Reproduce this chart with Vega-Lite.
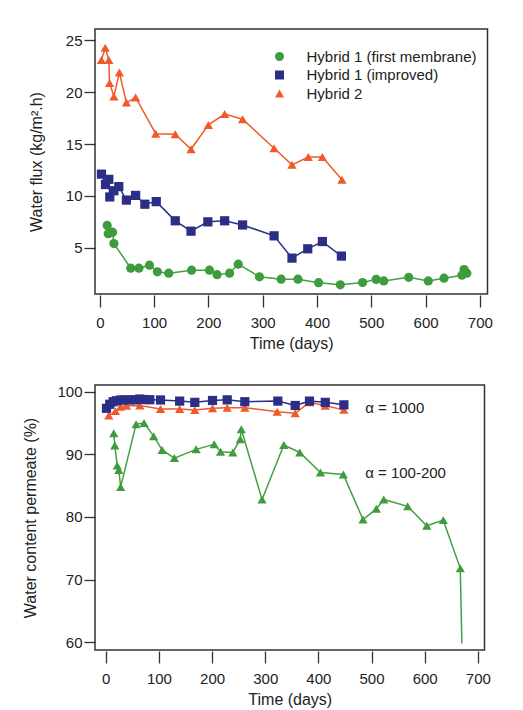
{
  "$schema": "https://vega.github.io/schema/vega-lite/v6.json",
  "background": "white",
  "padding": {"left": 22, "top": 28, "right": 0, "bottom": 0},
  "spacing": 31,
  "columns": 1,
  "config": {
    "font": "Liberation Sans",
    "view": {"stroke": "#333333", "strokeWidth": 1.5},
    "axis": {
      "labelFont": "Liberation Sans", "labelFontSize": 15, "labelColor": "#222222",
      "titleFont": "Liberation Sans", "titleFontSize": 16, "titleFontWeight": "normal", "titleColor": "#222222",
      "domain": false, "grid": false, "tickColor": "#333333", "tickWidth": 1.3,
      "labelFlush": false, "labelOverlap": false
    },
    "legend": {"labelFont": "Liberation Sans", "labelFontSize": 15, "labelColor": "#222222", "labelLimit": 400}
  },
  "datasets": {
    "flux": [
      {"series": "Hybrid 2", "t": 3, "v": 23.1},
      {"series": "Hybrid 2", "t": 10, "v": 24.3},
      {"series": "Hybrid 2", "t": 16.6, "v": 23.1},
      {"series": "Hybrid 2", "t": 18, "v": 20.9},
      {"series": "Hybrid 2", "t": 26, "v": 19.6},
      {"series": "Hybrid 2", "t": 36, "v": 21.9},
      {"series": "Hybrid 2", "t": 49, "v": 19.0},
      {"series": "Hybrid 2", "t": 66, "v": 19.5},
      {"series": "Hybrid 2", "t": 103, "v": 16.0},
      {"series": "Hybrid 2", "t": 139, "v": 15.95},
      {"series": "Hybrid 2", "t": 168, "v": 14.5},
      {"series": "Hybrid 2", "t": 200, "v": 16.85},
      {"series": "Hybrid 2", "t": 230, "v": 17.9},
      {"series": "Hybrid 2", "t": 263, "v": 17.4},
      {"series": "Hybrid 2", "t": 321, "v": 14.6},
      {"series": "Hybrid 2", "t": 354, "v": 13.0},
      {"series": "Hybrid 2", "t": 384, "v": 13.75},
      {"series": "Hybrid 2", "t": 410, "v": 13.75},
      {"series": "Hybrid 2", "t": 446, "v": 11.55},
      {"series": "Hybrid 1 (first membrane)", "t": 13.6, "v": 7.15},
      {"series": "Hybrid 1 (first membrane)", "t": 15.5, "v": 6.35},
      {"series": "Hybrid 1 (first membrane)", "t": 23.5, "v": 6.5},
      {"series": "Hybrid 1 (first membrane)", "t": 26, "v": 5.4},
      {"series": "Hybrid 1 (first membrane)", "t": 57, "v": 3.03},
      {"series": "Hybrid 1 (first membrane)", "t": 72, "v": 3.03},
      {"series": "Hybrid 1 (first membrane)", "t": 91.5, "v": 3.32},
      {"series": "Hybrid 1 (first membrane)", "t": 106, "v": 2.68},
      {"series": "Hybrid 1 (first membrane)", "t": 127, "v": 2.55},
      {"series": "Hybrid 1 (first membrane)", "t": 169, "v": 2.84},
      {"series": "Hybrid 1 (first membrane)", "t": 202, "v": 2.84},
      {"series": "Hybrid 1 (first membrane)", "t": 216, "v": 2.4},
      {"series": "Hybrid 1 (first membrane)", "t": 239, "v": 2.55},
      {"series": "Hybrid 1 (first membrane)", "t": 255, "v": 3.42},
      {"series": "Hybrid 1 (first membrane)", "t": 294, "v": 2.2},
      {"series": "Hybrid 1 (first membrane)", "t": 334, "v": 1.97},
      {"series": "Hybrid 1 (first membrane)", "t": 365, "v": 1.97},
      {"series": "Hybrid 1 (first membrane)", "t": 403, "v": 1.63},
      {"series": "Hybrid 1 (first membrane)", "t": 443, "v": 1.43},
      {"series": "Hybrid 1 (first membrane)", "t": 484, "v": 1.65},
      {"series": "Hybrid 1 (first membrane)", "t": 509, "v": 1.95},
      {"series": "Hybrid 1 (first membrane)", "t": 523, "v": 1.8},
      {"series": "Hybrid 1 (first membrane)", "t": 569, "v": 2.15},
      {"series": "Hybrid 1 (first membrane)", "t": 605, "v": 1.8},
      {"series": "Hybrid 1 (first membrane)", "t": 634, "v": 2.07},
      {"series": "Hybrid 1 (first membrane)", "t": 667, "v": 2.35},
      {"series": "Hybrid 1 (first membrane)", "t": 671, "v": 2.9},
      {"series": "Hybrid 1 (first membrane)", "t": 676, "v": 2.55},
      {"series": "Hybrid 1 (improved)", "t": 3, "v": 12.1},
      {"series": "Hybrid 1 (improved)", "t": 10.5, "v": 11.1},
      {"series": "Hybrid 1 (improved)", "t": 16.6, "v": 11.6},
      {"series": "Hybrid 1 (improved)", "t": 18.4, "v": 9.9},
      {"series": "Hybrid 1 (improved)", "t": 26, "v": 10.5},
      {"series": "Hybrid 1 (improved)", "t": 35, "v": 10.9},
      {"series": "Hybrid 1 (improved)", "t": 49, "v": 9.6},
      {"series": "Hybrid 1 (improved)", "t": 66, "v": 10.05},
      {"series": "Hybrid 1 (improved)", "t": 83, "v": 9.2},
      {"series": "Hybrid 1 (improved)", "t": 104, "v": 9.45},
      {"series": "Hybrid 1 (improved)", "t": 139, "v": 7.6},
      {"series": "Hybrid 1 (improved)", "t": 168, "v": 6.6},
      {"series": "Hybrid 1 (improved)", "t": 199, "v": 7.5},
      {"series": "Hybrid 1 (improved)", "t": 230, "v": 7.6},
      {"series": "Hybrid 1 (improved)", "t": 263, "v": 7.2},
      {"series": "Hybrid 1 (improved)", "t": 321, "v": 6.15},
      {"series": "Hybrid 1 (improved)", "t": 354, "v": 4.0},
      {"series": "Hybrid 1 (improved)", "t": 383, "v": 4.9},
      {"series": "Hybrid 1 (improved)", "t": 410, "v": 5.6},
      {"series": "Hybrid 1 (improved)", "t": 445, "v": 4.2}
    ],
    "water": [
      {"series": "Hybrid 2", "t": 5.6, "v": 96.2},
      {"series": "Hybrid 2", "t": 18.3, "v": 96.9},
      {"series": "Hybrid 2", "t": 27.7, "v": 97.6},
      {"series": "Hybrid 2", "t": 39, "v": 97.77},
      {"series": "Hybrid 2", "t": 64, "v": 97.8},
      {"series": "Hybrid 2", "t": 103, "v": 97.24},
      {"series": "Hybrid 2", "t": 139, "v": 97.24},
      {"series": "Hybrid 2", "t": 167.5, "v": 97.08},
      {"series": "Hybrid 2", "t": 200.8, "v": 97.35},
      {"series": "Hybrid 2", "t": 228.5, "v": 97.45},
      {"series": "Hybrid 2", "t": 261.6, "v": 97.45},
      {"series": "Hybrid 2", "t": 322.5, "v": 96.8},
      {"series": "Hybrid 2", "t": 356.4, "v": 96.55},
      {"series": "Hybrid 2", "t": 383.3, "v": 98.3},
      {"series": "Hybrid 2", "t": 413, "v": 97.77},
      {"series": "Hybrid 2", "t": 448, "v": 97.1},
      {"series": "Hybrid 1 (first membrane)", "t": 15, "v": 93.35},
      {"series": "Hybrid 1 (first membrane)", "t": 17, "v": 91.4},
      {"series": "Hybrid 1 (first membrane)", "t": 21.5, "v": 88.2},
      {"series": "Hybrid 1 (first membrane)", "t": 24.5, "v": 87.5},
      {"series": "Hybrid 1 (first membrane)", "t": 28, "v": 84.8},
      {"series": "Hybrid 1 (first membrane)", "t": 57, "v": 94.8},
      {"series": "Hybrid 1 (first membrane)", "t": 72, "v": 95.0},
      {"series": "Hybrid 1 (first membrane)", "t": 90, "v": 92.9},
      {"series": "Hybrid 1 (first membrane)", "t": 106, "v": 90.7},
      {"series": "Hybrid 1 (first membrane)", "t": 129, "v": 89.4},
      {"series": "Hybrid 1 (first membrane)", "t": 170, "v": 90.8},
      {"series": "Hybrid 1 (first membrane)", "t": 204, "v": 91.6},
      {"series": "Hybrid 1 (first membrane)", "t": 216, "v": 90.4},
      {"series": "Hybrid 1 (first membrane)", "t": 239, "v": 90.3},
      {"series": "Hybrid 1 (first membrane)", "t": 253, "v": 92.4},
      {"series": "Hybrid 1 (first membrane)", "t": 255, "v": 94.0},
      {"series": "Hybrid 1 (first membrane)", "t": 294, "v": 82.8},
      {"series": "Hybrid 1 (first membrane)", "t": 335, "v": 91.5},
      {"series": "Hybrid 1 (first membrane)", "t": 365, "v": 90.3},
      {"series": "Hybrid 1 (first membrane)", "t": 404, "v": 87.1},
      {"series": "Hybrid 1 (first membrane)", "t": 447, "v": 86.8},
      {"series": "Hybrid 1 (first membrane)", "t": 484, "v": 79.6},
      {"series": "Hybrid 1 (first membrane)", "t": 509, "v": 81.3},
      {"series": "Hybrid 1 (first membrane)", "t": 523, "v": 82.8},
      {"series": "Hybrid 1 (first membrane)", "t": 568, "v": 81.7},
      {"series": "Hybrid 1 (first membrane)", "t": 604, "v": 78.6},
      {"series": "Hybrid 1 (first membrane)", "t": 635, "v": 79.5},
      {"series": "Hybrid 1 (first membrane)", "t": 667, "v": 71.8},
      {"series": "Hybrid 1 (first membrane)", "t": 670, "v": 59.8},
      {"series": "Hybrid 1 (improved)", "t": 1.3, "v": 97.35},
      {"series": "Hybrid 1 (improved)", "t": 7.5, "v": 97.99},
      {"series": "Hybrid 1 (improved)", "t": 13.9, "v": 98.4},
      {"series": "Hybrid 1 (improved)", "t": 20, "v": 98.56},
      {"series": "Hybrid 1 (improved)", "t": 27.7, "v": 98.68},
      {"series": "Hybrid 1 (improved)", "t": 35.8, "v": 98.68},
      {"series": "Hybrid 1 (improved)", "t": 45, "v": 98.7},
      {"series": "Hybrid 1 (improved)", "t": 54.6, "v": 98.7},
      {"series": "Hybrid 1 (improved)", "t": 64, "v": 98.83},
      {"series": "Hybrid 1 (improved)", "t": 72.8, "v": 98.75},
      {"series": "Hybrid 1 (improved)", "t": 82.8, "v": 98.72},
      {"series": "Hybrid 1 (improved)", "t": 103, "v": 98.68},
      {"series": "Hybrid 1 (improved)", "t": 139, "v": 98.5},
      {"series": "Hybrid 1 (improved)", "t": 167.5, "v": 98.3},
      {"series": "Hybrid 1 (improved)", "t": 200.8, "v": 98.6},
      {"series": "Hybrid 1 (improved)", "t": 228.5, "v": 98.7},
      {"series": "Hybrid 1 (improved)", "t": 261.6, "v": 98.4},
      {"series": "Hybrid 1 (improved)", "t": 323.7, "v": 98.5},
      {"series": "Hybrid 1 (improved)", "t": 356.4, "v": 97.8},
      {"series": "Hybrid 1 (improved)", "t": 383.3, "v": 98.5},
      {"series": "Hybrid 1 (improved)", "t": 413, "v": 98.3},
      {"series": "Hybrid 1 (improved)", "t": 448, "v": 97.9}
    ],
    "notes": [
      {"t": 488, "v": 97.45, "label": "α = 1000"},
      {"t": 488, "v": 87.0, "label": "α = 100-200"}
    ]
  },
  "resolve": {"scale": {"shape": "independent", "color": "independent"}},
  "concat": [
    {
      "width": 392.5,
      "height": 265,
      "data": {"name": "flux"},
      "encoding": {
        "x": {"field": "t", "type": "quantitative", "scale": {"domain": [-8.84, 714.1], "nice": false, "zero": false},
          "axis": {"title": "Time (days)", "values": [0, 100, 200, 300, 400, 500, 600, 700], "format": "d", "offset": 1, "tickSize": 12, "labelPadding": 8, "titlePadding": 5}},
        "y": {"field": "v", "type": "quantitative", "scale": {"domain": [0.54, 26.1], "nice": false, "zero": false},
          "axis": {"title": "Water flux (kg/m².h)", "values": [5, 10, 15, 20, 25], "tickSize": 11, "labelPadding": 2, "titlePadding": 21}}
      },
      "layer": [
        {
          "mark": {"type": "line", "strokeWidth": 1.5},
          "encoding": {
            "detail": {"field": "series", "type": "nominal"},
            "stroke": {
              "condition": [
                {"test": "datum.series === 'Hybrid 2'", "value": "#f05a28"},
                {"test": "datum.series === 'Hybrid 1 (improved)'", "value": "#2b2e87"}
              ],
              "value": "#43a043"
            }
          }
        },
        {
          "mark": {"type": "point", "filled": true, "opacity": 1, "size": 85},
          "encoding": {
            "shape": {"field": "series", "type": "nominal",
              "scale": {"domain": ["Hybrid 1 (first membrane)", "Hybrid 1 (improved)", "Hybrid 2"], "range": ["circle", "square", "triangle-up"]}},
            "color": {"field": "series", "type": "nominal",
              "scale": {"domain": ["Hybrid 1 (first membrane)", "Hybrid 1 (improved)", "Hybrid 2"], "range": ["#3e9b3e", "#2b2e87", "#f05a28"]},
              "legend": {
                "title": null, "orient": "none", "legendX": 177, "legendY": 20,
                "symbolSize": 81, "labelOffset": 19.5, "rowPadding": 2.5, "padding": 0,
                "labelFontSize": 15, "labelLimit": 400,
                "encode": {
                  "symbols": {
                    "shape": {"value": {"expr": "datum.value === 'Hybrid 2' ? 'M-2.6,0H2.6M0,-1.1L1.1,0.8H-1.1Z' : datum.value === 'Hybrid 1 (improved)' ? 'M-2.6,0H2.6M-0.9,-0.9H0.9V0.9H-0.9Z' : 'M-2.6,0H2.6M-1,0A1,1,0,1,0,1,0A1,1,0,1,0,-1,0Z'"}},
                    "fill": {"value": {"expr": "datum.value === 'Hybrid 2' ? '#f05a28' : datum.value === 'Hybrid 1 (improved)' ? '#2b2e87' : '#3e9b3e'"}},
                    "stroke": {"value": {"expr": "datum.value === 'Hybrid 2' ? '#f05a28' : datum.value === 'Hybrid 1 (improved)' ? '#2b2e87' : '#43a043'"}},
                    "strokeWidth": {"value": 1.5},
                    "opacity": {"value": 1}
                  }
                }
              }
            }
          }
        }
      ]
    },
    {
      "width": 389.5,
      "height": 265,
      "encoding": {
        "x": {"field": "t", "type": "quantitative", "scale": {"domain": [-20.3, 712.6], "nice": false, "zero": false},
          "axis": {"title": "Time (days)", "values": [0, 100, 200, 300, 400, 500, 600, 700], "format": "d", "offset": 1, "tickSize": 12, "labelPadding": 8, "titlePadding": 5}},
        "y": {"field": "v", "type": "quantitative", "scale": {"domain": [58.77, 101.07], "nice": false, "zero": false},
          "axis": {"title": "Water content permeate (%)", "values": [60, 70, 80, 90, 100], "tickSize": 11, "labelPadding": 2, "titlePadding": 18}}
      },
      "layer": [
        {
          "data": {"name": "water"},
          "mark": {"type": "line", "strokeWidth": 1.5},
          "encoding": {
            "detail": {"field": "series", "type": "nominal"},
            "stroke": {
              "condition": [
                {"test": "datum.series === 'Hybrid 2'", "value": "#f05a28"},
                {"test": "datum.series === 'Hybrid 1 (improved)'", "value": "#2b2e87"}
              ],
              "value": "#43a043"
            }
          }
        },
        {
          "data": {"name": "water"},
          "transform": [{"filter": "datum.v > 60"}],
          "mark": {"type": "point", "filled": true, "opacity": 1, "size": 85},
          "encoding": {
            "color": {"field": "series", "type": "nominal", "legend": null,
              "scale": {"domain": ["Hybrid 1 (first membrane)", "Hybrid 1 (improved)", "Hybrid 2"], "range": ["#3e9b3e", "#2b2e87", "#f05a28"]}},
            "shape": {"field": "series", "type": "nominal", "legend": null,
              "scale": {"domain": ["Hybrid 1 (first membrane)", "Hybrid 1 (improved)", "Hybrid 2"], "range": ["triangle-up", "square", "triangle-up"]}}
          }
        },
        {
          "data": {"name": "notes"},
          "mark": {"type": "text", "align": "left", "baseline": "middle", "fontSize": 15, "font": "Liberation Sans", "color": "#222222"},
          "encoding": {
            "text": {"field": "label", "type": "nominal"}
          }
        }
      ]
    }
  ]
}
